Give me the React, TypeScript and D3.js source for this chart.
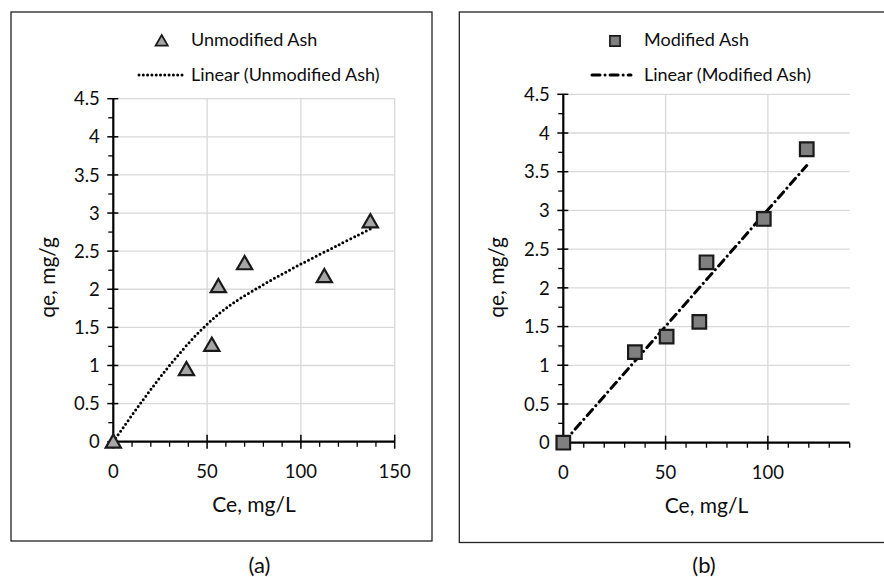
import React, { useEffect, useRef } from 'react';
import * as d3 from 'd3';

// panel (a) - unmodified ash
const unmodCe = [0, 39, 52.5, 56, 70, 112.5, 137];
const unmodQe = [0, 0.95, 1.27, 2.04, 2.34, 2.17, 2.89];
const unmodTrendCe = [0, 15, 30, 45, 60, 80, 100, 120, 137];
const unmodTrendQe = [0, 0.52, 1.0, 1.42, 1.75, 2.06, 2.33, 2.58, 2.79];
const unmodXTicks = [0, 50, 100, 150];

// panel (b) - modified ash
const modCe = [0, 35, 50.5, 66.5, 70, 98, 119];
const modQe = [0, 1.17, 1.37, 1.56, 2.33, 2.89, 3.79];
const modTrendCe = [0, 119];
const modTrendQe = [0, 3.58];
const modXTicks = [0, 50, 100];

const yTicks = [0, 0.5, 1, 1.5, 2, 2.5, 3, 3.5, 4, 4.5];
const yTickLabels = ['0', '0.5', '1', '1.5', '2', '2.5', '3', '3.5', '4', '4.5'];

const FONT = 'Lato, "Open Sans", sans-serif';
const INK = '#0d0d0d';

interface PanelCfg {
  frame: [number, number, number, number];
  xRange: [number, number];
  yRange: [number, number];
  xMax: number;
  xTicks: number[];
  ce: number[];
  qe: number[];
  trendCe: number[];
  trendQe: number[];
  marker: 'triangle' | 'square';
  legendMarkerX: number;
  legendLineX: [number, number];
  legendTextX: number;
  series: string;
  yTitleX: number;
  xTitleX: number;
  tag: string;
  tagX: number;
  dash: string;
}

function drawPanel(svg: d3.Selection<SVGSVGElement, unknown, null, undefined>, c: PanelCfg) {
  const g = svg.append('g');
  const x = d3.scaleLinear().domain([0, c.xMax]).range(c.xRange);
  const y = d3.scaleLinear().domain([0, 4.5]).range(c.yRange);

  g.append('rect')
    .attr('x', c.frame[0]).attr('y', c.frame[1])
    .attr('width', c.frame[2]).attr('height', c.frame[3])
    .attr('fill', 'white').attr('stroke', '#222').attr('stroke-width', 1.3);

  // grid
  g.selectAll('.hg').data(yTicks.slice(1)).enter().append('line')
    .attr('x1', x(0)).attr('x2', x(c.xMax))
    .attr('y1', (d) => y(d)).attr('y2', (d) => y(d))
    .attr('stroke', '#d9d9d9').attr('stroke-width', 1.3);
  g.selectAll('.vg').data(c.xTicks.slice(1)).enter().append('line')
    .attr('x1', (d) => x(d)).attr('x2', (d) => x(d))
    .attr('y1', y(0)).attr('y2', y(4.5))
    .attr('stroke', '#d9d9d9').attr('stroke-width', 1.3);

  // minor ticks
  const yMinor = d3.range(0.25, 4.5, 0.5);
  g.selectAll('.ym').data(yMinor).enter().append('line')
    .attr('x1', x(0) - 5).attr('x2', x(0))
    .attr('y1', (d) => y(d)).attr('y2', (d) => y(d))
    .attr('stroke', '#000').attr('stroke-width', 1.3);
  const xMinor = d3.range(10, c.xMax + 0.1, 10).filter((d) => d % 50 !== 0);
  g.selectAll('.xm').data(xMinor).enter().append('line')
    .attr('x1', (d) => x(d)).attr('x2', (d) => x(d))
    .attr('y1', y(0)).attr('y2', y(0) + 5)
    .attr('stroke', '#000').attr('stroke-width', 1.3);

  // major ticks
  g.selectAll('.yM').data(yTicks).enter().append('line')
    .attr('x1', x(0) - 6).attr('x2', x(0) + 5)
    .attr('y1', (d) => y(d)).attr('y2', (d) => y(d))
    .attr('stroke', '#000').attr('stroke-width', 1.5);
  g.selectAll('.xM').data(c.xTicks).enter().append('line')
    .attr('x1', (d) => x(d)).attr('x2', (d) => x(d))
    .attr('y1', y(0) - 7).attr('y2', y(0) + 7)
    .attr('stroke', '#000').attr('stroke-width', 1.5);

  // axis lines
  g.append('line').attr('x1', x(0)).attr('x2', x(0)).attr('y1', y(0)).attr('y2', y(4.5))
    .attr('stroke', '#000').attr('stroke-width', 2.2);
  g.append('line').attr('x1', x(0)).attr('x2', x(c.xMax)).attr('y1', y(0)).attr('y2', y(0))
    .attr('stroke', '#000').attr('stroke-width', 2.2);

  // tick labels
  g.selectAll('.yl').data(yTicks).enter().append('text')
    .attr('x', x(0) - 13.5).attr('y', (d) => y(d)).attr('dy', '0.36em')
    .attr('text-anchor', 'end').style('font-family', FONT).style('font-size', '18.5px')
    .attr('fill', INK)
    .text((d, i) => yTickLabels[i]);
  g.selectAll('.xl').data(c.xTicks).enter().append('text')
    .attr('x', (d) => x(d)).attr('y', y(0) + 30).attr('dy', '0.36em')
    .attr('text-anchor', 'middle').style('font-family', FONT).style('font-size', '18.5px')
    .attr('fill', INK)
    .text((d) => String(d));

  // axis titles
  g.append('text')
    .attr('transform', `translate(${c.yTitleX}, 277.5) rotate(-90)`)
    .attr('text-anchor', 'middle').attr('dy', '0.35em')
    .style('font-family', FONT).style('font-size', '21px').attr('fill', INK)
    .text('qe, mg/g');
  g.append('text')
    .attr('x', c.xTitleX)
    .attr('y', y(0) + 63).attr('dy', '0.35em')
    .attr('text-anchor', 'middle')
    .style('font-family', FONT).style('font-size', '21px').attr('fill', INK)
    .text('Ce, mg/L');

  // trend line
  const pts: [number, number][] = c.trendCe.map((v, i) => [v, c.trendQe[i]]);
  const line = d3.line<[number, number]>()
    .x((d) => x(d[0])).y((d) => y(d[1]))
    .curve(d3.curveCatmullRom);
  g.append('path').attr('d', line(pts) || '')
    .attr('fill', 'none').attr('stroke', '#000').attr('stroke-width', 3)
    .attr('stroke-linecap', 'round')
    .attr('stroke-dasharray', c.dash);

  // markers
  const sym = c.marker === 'triangle'
    ? d3.symbol().type(d3.symbolTriangle).size(100)
    : d3.symbol().type(d3.symbolSquare).size(185);
  const fill = c.marker === 'triangle' ? '#a6a6a6' : '#808080';
  const mpts = c.ce.map((v, i) => [v, c.qe[i]]);
  g.selectAll('.mk').data(mpts).enter().append('path')
    .attr('d', sym() || '')
    .attr('transform', (d) => `translate(${x(d[0])}, ${y(d[1]) + (c.marker === 'triangle' ? 1.5 : 0)})`)
    .attr('fill', fill).attr('stroke', '#1a1a1a').attr('stroke-width', 2.2);

  // legend
  g.append('path').attr('d', sym() || '')
    .attr('transform', `translate(${c.legendMarkerX}, ${c.marker === 'triangle' ? 42 : 41})${c.marker === 'triangle' ? ' scale(0.8)' : ' scale(0.75)'}`)
    .attr('fill', fill).attr('stroke', '#1a1a1a').attr('stroke-width', 2.2);
  g.append('text').attr('x', c.legendTextX).attr('y', 40).attr('dy', '0.35em')
    .style('font-family', FONT).style('font-size', '18px').attr('fill', INK)
    .text(c.series);
  g.append('line').attr('x1', c.legendLineX[0]).attr('x2', c.legendLineX[1]).attr('y1', 75).attr('y2', 75)
    .attr('stroke', '#000').attr('stroke-width', 3).attr('stroke-linecap', 'round')
    .attr('stroke-dasharray', c.dash);
  g.append('text').attr('x', c.legendTextX).attr('y', 75).attr('dy', '0.35em')
    .style('font-family', FONT).style('font-size', '18px').attr('fill', INK)
    .text(`Linear (${c.series})`);

  // panel tag
  g.append('text').attr('x', c.tagX).attr('y', 565.5).attr('dy', '0.35em')
    .attr('text-anchor', 'middle')
    .style('font-family', FONT).style('font-size', '22px').attr('fill', INK)
    .text(c.tag);
}

export default function App() {
  const ref = useRef<SVGSVGElement>(null);

  useEffect(() => {
    const svg = d3.select(ref.current as SVGSVGElement);
    svg.selectAll('*').remove();
    svg.append('rect').attr('width', 884).attr('height', 577).attr('fill', 'white');

    drawPanel(svg, {
      frame: [11, 12, 421, 529], xRange: [113.3, 394.7], yRange: [441.7, 98.7], xMax: 150,
      xTicks: unmodXTicks, ce: unmodCe, qe: unmodQe, trendCe: unmodTrendCe, trendQe: unmodTrendQe,
      marker: 'triangle', legendMarkerX: 161.7, legendLineX: [139, 184], legendTextX: 191,
      series: 'Unmodified Ash', yTitleX: 47.5, xTitleX: 254, tag: '(a)', tagX: 259.5, dash: '0 4.3',
    });
    drawPanel(svg, {
      frame: [459.3, 12, 440, 530.5], xRange: [563.3, 849.7], yRange: [442.7, 94.3], xMax: 140,
      xTicks: modXTicks, ce: modCe, qe: modQe, trendCe: modTrendCe, trendQe: modTrendQe,
      marker: 'square', legendMarkerX: 615, legendLineX: [592, 631], legendTextX: 644,
      series: 'Modified Ash', yTitleX: 497, xTitleX: 706.5, tag: '(b)', tagX: 704, dash: '8 5 0.1 5',
    });
  }, []);

  return (
    <svg ref={ref} width={884} height={577} style={{ position: 'absolute', left: 0, top: 0 }} />
  );
}
